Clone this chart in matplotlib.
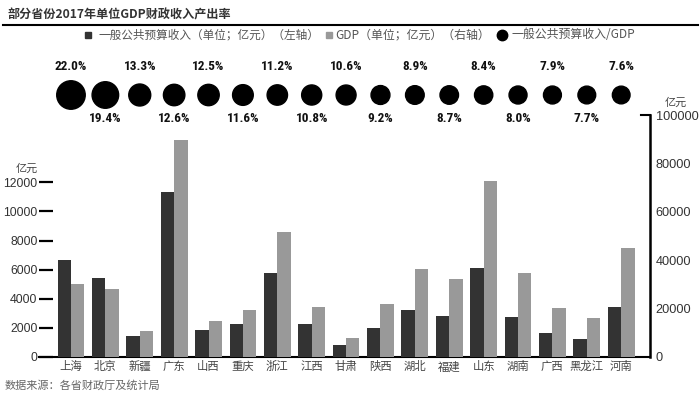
import matplotlib
matplotlib.use("Agg")
import matplotlib.pyplot as plt
import matplotlib.transforms as mtransforms
from matplotlib import font_manager
import numpy as np

plt.rcParams['font.family'] = ['Noto Sans CJK SC', 'DejaVu Sans']

# data
provinces = ['上海', '北京', '新疆', '广东', '山西', '重庆', '浙江', '江西', '甘肃',
             '陕西', '湖北', '福建', '山东', '湖南', '广西', '黑龙江', '河南']
revenue = [6642, 5431, 1466, 11315, 1867, 2252, 5804, 2247, 816,
           2007, 3248, 2809, 6098, 2757, 1615, 1243, 3407]
gdp = [30133, 28015, 10920, 89879, 14974, 19425, 51768, 20818, 7677,
       21899, 36523, 32298, 72678, 34591, 20396, 16200, 44988]
ratio = [22.0, 19.4, 13.3, 12.6, 12.5, 11.6, 11.2, 10.8, 10.6,
         9.2, 8.9, 8.7, 8.4, 8.0, 7.9, 7.7, 7.6]
left_ticks = [0, 2000, 4000, 6000, 8000, 10000, 12000]
right_ticks = [0, 20000, 40000, 60000, 80000, 100000]

dark = '#333333'
light = '#999999'

# narrow bold face for the percent labels, if one is installed
names = set(f.name for f in font_manager.fontManager.ttflist)
narrow = None
for cand in ['Liberation Sans Narrow', 'Roboto Condensed', 'Open Sans Condensed']:
    if cand in names:
        narrow = cand
        break

fig = plt.figure(figsize=(7, 3.97), dpi=100)
ax = fig.add_axes([0.0557, 0.1008, 0.873, 0.6095])
ax2 = ax.twinx()

x = np.arange(len(provinces))
w = 0.39
ax.bar(x - w / 2, revenue, w, color=dark, zorder=3)
ax2.bar(x + w / 2, gdp, w, color=light, zorder=3)

ax.set_xlim(-0.93, 16.84)
ax.set_ylim(0, 16630)
ax2.set_ylim(0, 100000)

ax.set_yticks(left_ticks)
ax.set_yticklabels([str(t) for t in left_ticks], family='Liberation Sans', fontsize=8.8, color='#333333')
ax.tick_params(axis='y', direction='in', length=10, width=1.6, color='black', pad=1)
ax2.set_yticks(right_ticks)
ax2.set_yticklabels([str(t) for t in right_ticks], family='Liberation Sans', fontsize=9.2, color='#333333')
ax2.tick_params(axis='y', length=0, pad=4)
ax2.plot([0.985, 1.0], [1, 1], transform=ax2.transAxes, color='black', lw=1.5, clip_on=False)

ax.set_xticks(x)
ax.set_xticklabels(provinces, fontsize=8.2, color='#444444')
ax.tick_params(axis='x', length=0, pad=3)

for a in (ax, ax2):
    a.spines['top'].set_visible(False)
    a.spines['left'].set_visible(False)
    a.spines['right'].set_visible(False)
    a.spines['bottom'].set_linewidth(1.5)
ax2.spines['right'].set_visible(True)
ax2.spines['right'].set_linewidth(1.8)
ax2.spines['bottom'].set_visible(False)

fig.text(37.5 / 700, 1 - 169 / 397, '亿元', ha='right', va='center', fontsize=8, color='#444444')
fig.text(676 / 700, 1 - 103 / 397, '亿元', ha='center', va='center', fontsize=8, color='#444444')

# bubble row above the bars
trans = mtransforms.blended_transform_factory(ax.transData, fig.transFigure)
sizes = [((12 + 0.75 * r) * 0.72) ** 2 for r in ratio]
ax.scatter(x, [1 - 95 / 397] * len(x), s=sizes, color='black', transform=trans, clip_on=False, zorder=5)
for i, r in enumerate(ratio):
    yy = 1 - 66 / 397 if i % 2 == 0 else 1 - 118 / 397
    if narrow:
        ax.text(x[i], yy, '%.1f%%' % r, transform=trans, ha='center', va='center',
                family=narrow, fontweight='bold', fontsize=9.5, color='#111111')
    else:
        ax.text(x[i], yy, '%.1f%%' % r, transform=trans, ha='center', va='center',
                family='DejaVu Sans', fontweight='bold', fontstretch='condensed',
                fontsize=8.5, color='#111111')

# title and rule
fig.text(8 / 700, 1 - 15 / 397, '部分省份2017年单位GDP财政收入产出率', ha='left', va='center',
         fontsize=8.7, fontweight='bold', color='#333333')
fig.add_artist(plt.Line2D([3 / 700, 698 / 700], [1 - 25 / 397] * 2, color='black', lw=1.5))

# legend
ly = 1 - 35 / 397
fig.add_artist(plt.Line2D([88 / 700], [ly], marker='s', markersize=5, color=dark, lw=0))
fig.text(98 / 700, ly, '一般公共预算收入（单位；亿元）（左轴）', ha='left', va='center', fontsize=8.4, color='#555555')
fig.add_artist(plt.Line2D([329 / 700], [ly], marker='s', markersize=5, color=light, lw=0))
fig.text(335 / 700, ly, 'GDP（单位；亿元）（右轴）', ha='left', va='center', fontsize=8.6, color='#555555')
fig.add_artist(plt.Line2D([502 / 700], [ly], marker='o', markersize=7.5, color='black', lw=0))
fig.text(512 / 700, ly, '一般公共预算收入/GDP', ha='left', va='center', fontsize=8.6, color='#555555')

fig.text(5 / 700, 1 - 385 / 397, '数据来源：各省财政厅及统计局', ha='left', va='center', fontsize=8, color='#666666')

fig.savefig('out.png', dpi=100)
